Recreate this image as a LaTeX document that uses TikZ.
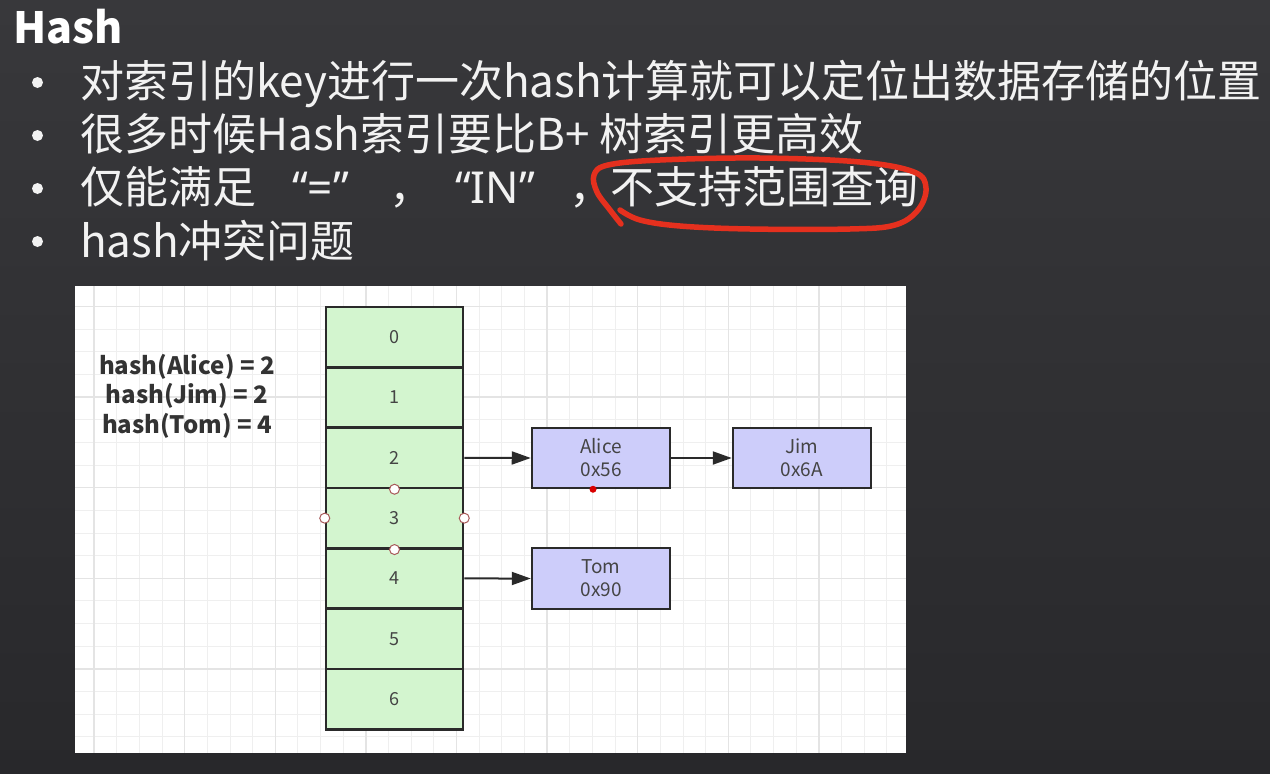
\documentclass[tikz,border=0pt]{standalone}
\usepackage{fontspec}
\setmainfont{Noto Sans CJK SC}
\newfontfamily\latinquote{Noto Sans}
\usetikzlibrary{arrows.meta}
\definecolor{bgtop}{HTML}{38383B}
\definecolor{bgbot}{HTML}{28282B}
\definecolor{slidetext}{HTML}{F2F2F2}
\definecolor{gridminor}{HTML}{EFEFEF}
\definecolor{gridmajor}{HTML}{E4E4E4}
\definecolor{cellgreen}{HTML}{D3F5CF}
\definecolor{boxblue}{HTML}{CDCDFA}
\definecolor{edge}{HTML}{2A2A2A}
\definecolor{labelgray}{HTML}{444444}
\definecolor{hashgray}{HTML}{333333}
\definecolor{markred}{HTML}{E5301E}
\definecolor{handleedge}{HTML}{A85A5A}
\tikzset{
  slideline/.style={anchor=base west, inner sep=0, text=slidetext, font=\fontsize{44}{52}\selectfont},
  bulletdot/.style={fill=slidetext},
  gminor/.style={draw=gridminor, line width=1pt},
  gmajor/.style={draw=gridmajor, line width=1.4pt},
  cellbox/.style={draw=edge, fill=cellgreen, line width=2.5pt, minimum width=137pt, minimum height=60.33pt, inner sep=0, text=labelgray, font=\fontsize{18}{22}\selectfont},
  entrybox/.style={draw=edge, fill=boxblue, line width=2.5pt, minimum width=138pt, minimum height=60pt, inner sep=0, text=labelgray, align=center, font=\fontsize{19}{23}\selectfont},
  ptr/.style={draw=edge, line width=2pt, -{Triangle[length=19pt,width=13pt]}},
  handle/.style={circle, draw=handleedge, fill=white, line width=1pt, minimum size=10pt, inner sep=0},
}
\begin{document}
\begin{tikzpicture}[x=1pt,y=-1pt]
\useasboundingbox (0,0) rectangle (1270,774);
\shade[top color=bgtop, bottom color=bgbot] (0,0) rectangle (1270,774);
% title and bullets
\node[anchor=base west, inner sep=0, text=white, font=\bfseries\fontsize{43}{50}\selectfont] (title) at (13,43) {Hash};
\fill[bulletdot] (37.5,82.5) circle (5.5pt);
\fill[bulletdot] (37.5,135.5) circle (5.5pt);
\fill[bulletdot] (37.5,188.5) circle (5.5pt);
\fill[bulletdot] (37.5,241.5) circle (5.5pt);
\node[slideline] (b1) at (80,97) {对索引的key进行一次hash计算就可以定位出数据存储的位置};
\node[slideline] (b2) at (80,150) {很多时候Hash索引要比B+ 树索引更高效};
\node[slideline] (b3) at (80,203) {\makebox[212pt][l]{仅能满足}\makebox[97pt][l]{\latinquote “=”}\makebox[66pt][l]{，}\makebox[114pt][l]{\latinquote “IN”}\makebox[41pt][l]{，}不支持范围查询};
\node[slideline] (b4) at (80,257) {hash冲突问题};
% red hand-drawn loop
\draw[markred, line width=5.5pt, line cap=round, line join=round] plot[smooth, tension=0.6] coordinates {
 (621,224) (610,210) (597,192) (594,175) (608,165) (660,160) (760,158) (860,162) (914,172) (926,188) (918,210) (895,225) (850,229) (750,229) (680,226) (640,220) (620,210)};
% diagram panel
\fill[white] (75,286) rectangle (906,753);
\foreach \k in {-28,...,7} \draw[gminor] ({728.3+22.65*\k},286) -- ({728.3+22.65*\k},753);
\foreach \k in {-12,...,7} \draw[gminor] (75,{578.3+22.65*\k}) -- (906,{578.3+22.65*\k});
\foreach \k in {-28,-24,...,4} \draw[gmajor] ({728.3+22.65*\k},286) -- ({728.3+22.65*\k},753);
\foreach \k in {-12,-8,...,4} \draw[gmajor] (75,{578.3+22.65*\k}) -- (906,{578.3+22.65*\k});
% hash values
\node[align=center, inner sep=0, text=hashgray, font=\bfseries\fontsize{24}{29.5}\selectfont, anchor=north] (hashlbl) at (187,354) {hash(Alice) = 2\\hash(Jim) = 2\\hash(Tom) = 4};
% array
\foreach \i in {0,...,6} \node[cellbox] (c\i) at (394.5,{307+60.33*(\i+0.5)}) {\i};
% entries
\node[entrybox] (alice) at (601,458) {Alice\\0x56};
\node[entrybox] (jim) at (802,458) {Jim\\0x6A};
\node[entrybox, minimum height=61pt] (tom) at (601,578.5) {Tom\\0x90};
\draw[ptr] (c2.east) -- (alice.west);
\draw[ptr] (alice.east) -- (jim.west);
\draw[ptr] (c4.east) -- (tom.west);
% selection handles
\node[handle] (h1) at (c2.south) {};
\node[handle] (h2) at (c3.west) {};
\node[handle] (h3) at (c3.east) {};
\node[handle] (h4) at (c3.south) {};
\fill[red!85!black] ([xshift=-8pt]alice.south) circle (3.5pt);
\end{tikzpicture}
\end{document}
